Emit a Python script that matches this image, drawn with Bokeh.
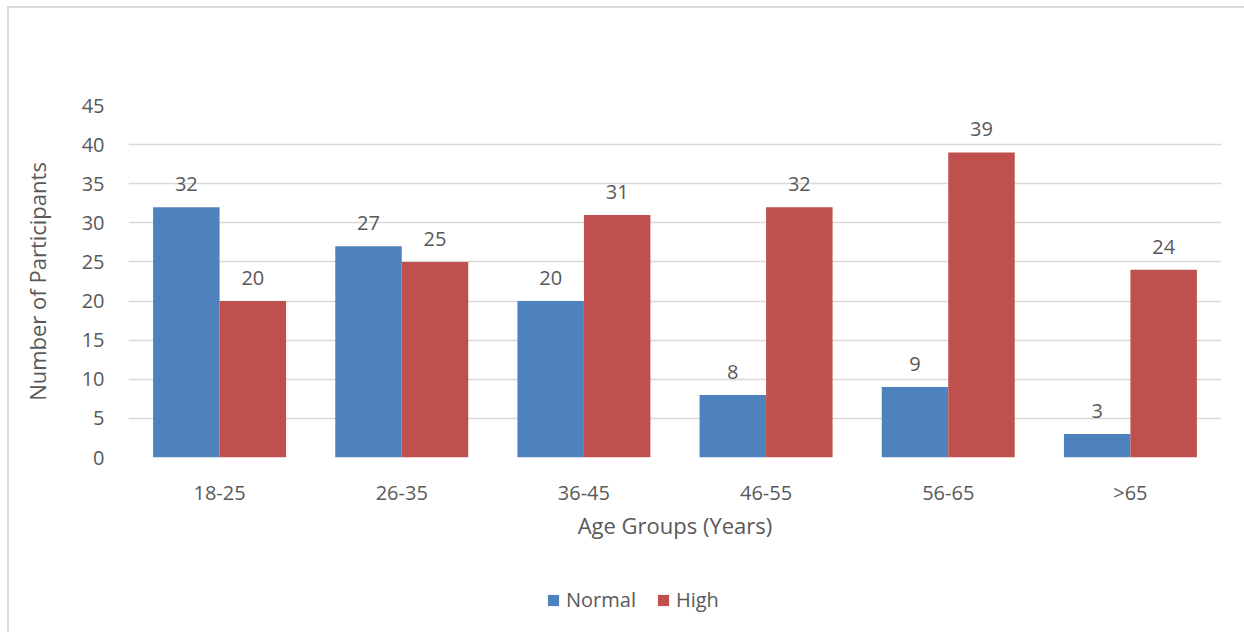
from bokeh.plotting import figure
from bokeh.layouts import column
from bokeh.models import ColumnDataSource, FactorRange, Legend, LegendItem, SingleIntervalTicker
from bokeh.transform import dodge
from bokeh.core.properties import value
from bokeh.embed import file_html
from bokeh.resources import INLINE

# Participants per age group, split by level
age_groups = ["18-25", "26-35", "36-45", "46-55", "56-65", ">65"]
normal = [32, 27, 20, 8, 9, 3]
high = [20, 25, 31, 32, 39, 24]

FONT = "Open Sans"
TEXT = "#595959"
GRID = "#d9d9d9"
BLUE = "#4f81bd"
RED = "#c0504d"
BAR_W = 0.365

src = ColumnDataSource(dict(
    group=age_groups,
    normal=normal,
    high=high,
    normal_lbl=[str(v) for v in normal],
    high_lbl=[str(v) for v in high],
))

p = figure(
    width=1235, height=567,
    x_range=FactorRange(*age_groups, range_padding=0),
    y_range=(0, 45),
    output_backend="svg", toolbar_location=None,
    min_border_left=119, min_border_right=23,
    min_border_top=97, min_border_bottom=118,
)
p.outline_line_color = None
p.background_fill_color = "white"
p.border_fill_color = "white"

p.vbar(x=dodge("group", -BAR_W / 2, range=p.x_range), top="normal",
       width=BAR_W, source=src, color=BLUE, line_color=None)
p.vbar(x=dodge("group", BAR_W / 2, range=p.x_range), top="high",
       width=BAR_W, source=src, color=RED, line_color=None)

# value labels above each bar
for col, off in (("normal", -BAR_W / 2), ("high", BAR_W / 2)):
    p.text(x=dodge("group", off, range=p.x_range), y=col, text=col + "_lbl",
           source=src, text_align="center", text_baseline="alphabetic",
           y_offset=-23, text_font=value(FONT), text_font_size="20px",
           text_color=TEXT)

# axes
p.yaxis.ticker = SingleIntervalTicker(interval=5)
for ax in (p.xaxis[0], p.yaxis[0]):
    ax.axis_line_color = None
    ax.major_tick_line_color = None
    ax.minor_tick_line_color = None
    ax.major_label_text_font = FONT
    ax.major_label_text_font_size = "20px"
    ax.major_label_text_color = TEXT
    ax.axis_label_text_font = FONT
    ax.axis_label_text_font_size = "22px"
    ax.axis_label_text_color = TEXT
    ax.axis_label_text_font_style = "normal"

p.xaxis.axis_label = "Age Groups (Years)"
p.xaxis.major_label_standoff = 15
p.xaxis.axis_label_standoff = 1
p.yaxis.axis_label = "Number of Participants"
p.yaxis.major_label_standoff = 18
p.yaxis.axis_label_standoff = 27

p.xgrid.grid_line_color = None
p.ygrid.grid_line_color = GRID
p.ygrid.grid_line_width = 1.5

# legend strip below the chart; its key renderers are zero-size bars
lg = figure(
    width=1235, height=57, x_range=(0, 1), y_range=(0, 1),
    output_backend="svg", toolbar_location=None, min_border=0,
)
lg.axis.visible = False
lg.grid.visible = False
lg.outline_line_color = None
lg.border_fill_color = "white"
k_norm = lg.vbar(x=[0.5], bottom=[0.5], top=[0.5], width=0, color=BLUE, line_color=None)
k_high = lg.vbar(x=[0.5], bottom=[0.5], top=[0.5], width=0, color=RED, line_color=None)
legend = Legend(
    items=[LegendItem(label="Normal", renderers=[k_norm]),
           LegendItem(label="High", renderers=[k_high])],
    orientation="horizontal",
    location=(418, 19),
    label_text_font=FONT, label_text_font_size="20px", label_text_color=TEXT,
    glyph_width=14, glyph_height=14, label_standoff=6, spacing=20,
    border_line_color=None, background_fill_alpha=0,
    padding=0, margin=0,
)
lg.add_layout(legend, "center")

layout = column(p, lg, spacing=0)
layout.styles = {
    "margin-left": "7px", "margin-top": "6px",
    "border-left": "2px solid #d9d9d9", "border-top": "2px solid #d9d9d9",
}

open("out.html", "w").write(file_html(layout, INLINE))
